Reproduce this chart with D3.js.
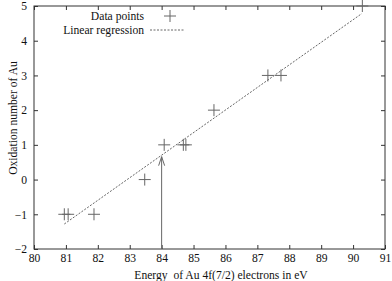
<!DOCTYPE html>
<html><head><meta charset="utf-8">
<script src="https://cdn.jsdelivr.net/npm/d3@7"></script>
<style>body{margin:0;background:#fff}svg{display:block}svg text{font-family:"Liberation Serif","DejaVu Serif",serif !important;font-size:11.6px !important;fill:#111}</style>
</head><body><div id="c"></div>
<script>
const energy = [80.95, 81.07, 81.88, 83.47, 84.08, 84.68, 84.76, 85.64, 87.33, 87.74, 90.29];
const oxidation = [-1, -1, -1, 0, 1, 1, 1, 2, 3, 3, 5];
const regressionX = [80.95, 90.27];
const regressionY = [-1.28, 4.78];
const arrowX = [84, 84];
const arrowY = [-2, 0.66];
const xTicks = [80,81,82,83,84,85,86,87,88,89,90,91];
const yTicks = [-2,-1,0,1,2,3,4,5];

const W=392,H=281, L=34, R=385, T=6, B=249;
const svg=d3.select("#c").append("svg").attr("width",W).attr("height",H);
const x=d3.scaleLinear().domain([80,91]).range([L,R]);
const y=d3.scaleLinear().domain([-2,5]).range([B,T]);
const grey="#666";

svg.append("rect").attr("x",L).attr("y",T).attr("width",R-L).attr("height",B-T)
  .attr("fill","none").attr("stroke","#333").attr("stroke-width",1);

const tl=4;
svg.append("g").attr("transform",`translate(0,${B})`)
  .call(d3.axisBottom(x).tickValues(xTicks).tickSize(-tl).tickPadding(5).tickFormat(d3.format("d")));
svg.append("g").attr("transform",`translate(0,${T})`)
  .call(d3.axisTop(x).tickValues(xTicks).tickSize(-tl).tickFormat(""));
svg.append("g").attr("transform",`translate(${L},0)`)
  .call(d3.axisLeft(y).tickValues(yTicks).tickSize(-tl).tickPadding(7).tickFormat(d3.format("d")));
svg.append("g").attr("transform",`translate(${R},0)`)
  .call(d3.axisRight(y).tickValues(yTicks).tickSize(-tl).tickFormat(""));
svg.selectAll(".domain").remove();
svg.selectAll(".tick line").attr("stroke","#333");

svg.append("line").attr("x1",x(regressionX[0])).attr("y1",y(regressionY[0]))
  .attr("x2",x(regressionX[1])).attr("y2",y(regressionY[1]))
  .attr("stroke",grey).attr("stroke-width",1).attr("stroke-dasharray","2,1.5");

svg.append("line").attr("x1",x(arrowX[0])).attr("y1",y(arrowY[0]))
  .attr("x2",x(arrowX[1])).attr("y2",y(arrowY[1])).attr("stroke",grey).attr("stroke-width",1);
const ax0=x(arrowX[1]), ay0=y(arrowY[1]);
svg.append("path").attr("d",`M${ax0-3},${ay0+9}L${ax0},${ay0}L${ax0+3},${ay0+9}`)
  .attr("fill","none").attr("stroke",grey).attr("stroke-width",1);

const s=6;
const pts=svg.append("g").attr("stroke",grey).attr("stroke-width",1).attr("fill","none");
energy.forEach((e,i)=>{
  const px=x(e), py=y(oxidation[i]);
  pts.append("path").attr("d",`M${px-s},${py}H${px+s}M${px},${py-s}V${py+s}`);
});

svg.append("text").attr("x",144).attr("y",20).attr("text-anchor","end").text("Data points");
pts.append("path").attr("d",`M${170-s},16H${170+s}M170,${16-s}V${16+s}`);
svg.append("text").attr("x",144).attr("y",34).attr("text-anchor","end").text("Linear regression");
svg.append("line").attr("x1",150).attr("x2",185).attr("y1",30).attr("y2",30)
  .attr("stroke",grey).attr("stroke-width",1).attr("stroke-dasharray","2,1.5");

svg.append("text").attr("x",221).attr("y",279).attr("text-anchor","middle").style("white-space","pre").text("Energy  of Au 4f(7/2) electrons in eV");
svg.append("text").attr("transform","translate(17,118) rotate(-90)").attr("text-anchor","middle").text("Oxidation number of Au");
</script></body></html>
